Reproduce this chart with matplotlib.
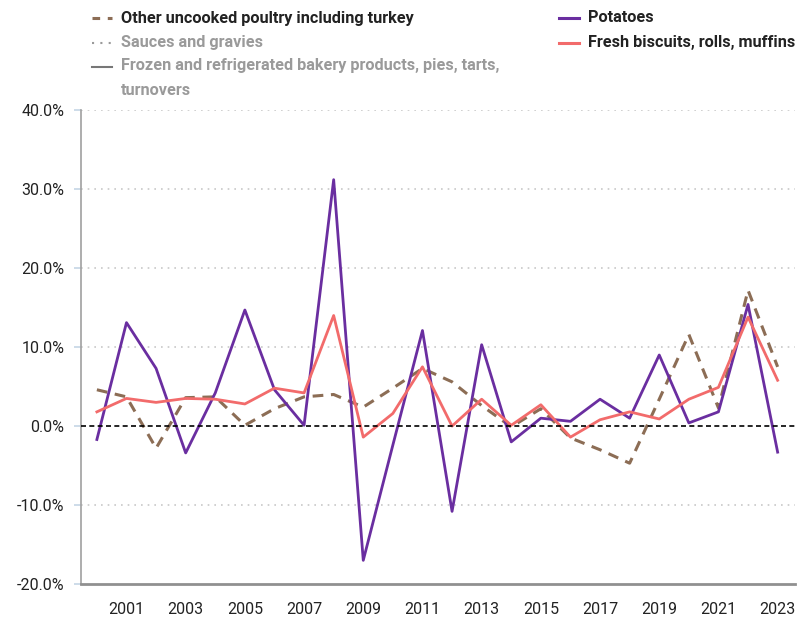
import matplotlib
matplotlib.use("Agg")
import matplotlib.pyplot as plt
from matplotlib.lines import Line2D
from matplotlib.ticker import FuncFormatter

years = list(range(2000, 2024))
potatoes = [-1.7, 13.1, 7.3, -3.4, 4.2, 14.7, 4.6, 0.1, 31.2, -17.0, -2.4, 12.1,
            -10.8, 10.3, -2.0, 1.0, 0.6, 3.4, 1.0, 9.0, 0.4, 1.8, 15.4, -3.3]
biscuits = [1.8, 3.5, 3.0, 3.5, 3.4, 2.8, 4.8, 4.2, 14.0, -1.4, 1.6, 7.5,
            0.0, 3.4, 0.1, 2.7, -1.4, 0.8, 1.8, 0.9, 3.4, 4.9, 13.8, 5.8]
poultry = [4.6, 3.7, -2.8, 3.6, 3.7, 0.1, 2.2, 3.7, 4.0, 2.4, 4.8, 7.3,
           5.6, 2.6, -0.1, 2.2, -1.5, -3.0, -4.7, 3.4, 11.6, 2.3, 17.2, 7.5]
xtick_years = list(range(2001, 2024, 2))
yticks = [-20, -10, 0, 10, 20, 30, 40]

label_poultry = "Other uncooked poultry including turkey"
label_sauces = "Sauces and gravies"
label_frozen = "Frozen and refrigerated bakery products, pies, tarts,\nturnovers"
label_potatoes = "Potatoes"
label_biscuits = "Fresh biscuits, rolls, muffins"

FONT = ["Liberation Sans Narrow", "Roboto", "DejaVu Sans"]
plt.rcParams["font.family"] = FONT

c_pot = "#6a2ea0"
c_bis = "#f26b6b"
c_pou = "#8c6d55"
c_gray = "#9a9a9a"

fig = plt.figure(figsize=(8.01, 6.19), dpi=100)
ax = fig.add_axes([0.101, 0.0565, 0.892, 0.7655])

ax.plot(years, poultry, color=c_pou, lw=2.2, ls=(0, (3.5, 2.5)), zorder=3)
ax.plot(years, potatoes, color=c_pot, lw=2.0, zorder=4)
ax.plot(years, biscuits, color=c_bis, lw=2.0, zorder=5)
ax.axhline(0, color="black", lw=1.2, ls=(0, (3, 2)), zorder=6)

ax.set_ylim(-20, 40)
ax.set_xlim(1999.46, 2023.6)
ax.set_yticks(yticks)
ax.yaxis.set_major_formatter(FuncFormatter(lambda v, p: f"{v:.1f}%"))
ax.set_xticks(xtick_years)
ax.set_xticklabels([str(y) for y in xtick_years])
for y in yticks:
    if y not in (0, -20):
        ax.axhline(y, color="#c8c8c8", lw=1.2, ls=(0, (1, 3)), zorder=1)

for s in ["top", "right"]:
    ax.spines[s].set_visible(False)
ax.spines["left"].set_color("#a0a0a0")
ax.spines["left"].set_linewidth(1.2)
ax.spines["bottom"].set_color("#909090")
ax.spines["bottom"].set_linewidth(2.0)
ax.tick_params(axis="y", length=5, width=1.2, color="#c5d5e5", labelsize=11.5,
               labelcolor="#222222", pad=7)
ax.tick_params(axis="x", length=0, labelsize=11.5, labelcolor="#222222", pad=13)

# Legend (manual layout)
LFS = 11.7

def leg(xh, y, label, color, ls, txtcolor, lw=2.2):
    fig.add_artist(Line2D([xh / 801, (xh + 20) / 801], [1 - y / 619, 1 - y / 619],
                          color=color, ls=ls, lw=lw, transform=fig.transFigure))
    fig.text((xh + 29) / 801, 1 - y / 619, label, color=txtcolor, fontsize=LFS,
             fontweight="bold", va="center", ha="left", family=FONT)

leg(92, 18, label_poultry, c_pou, (0, (2.5, 2.5)), "#222222")
leg(92, 43, label_sauces, c_gray, (0, (1, 3)), c_gray, lw=1.5)
fig.add_artist(Line2D([92 / 801, 112 / 801], [1 - 67 / 619, 1 - 67 / 619],
                      color="#777777", lw=1.5, transform=fig.transFigure))
fig.text(121 / 801, 1 - 58 / 619, label_frozen, color=c_gray, fontsize=LFS,
         fontweight="bold", va="top", ha="left", linespacing=1.8, family=FONT)
leg(559, 18, label_potatoes, c_pot, "-", "#222222")
leg(559, 43, label_biscuits, c_bis, "-", "#222222")

fig.savefig("out.png", dpi=100)
